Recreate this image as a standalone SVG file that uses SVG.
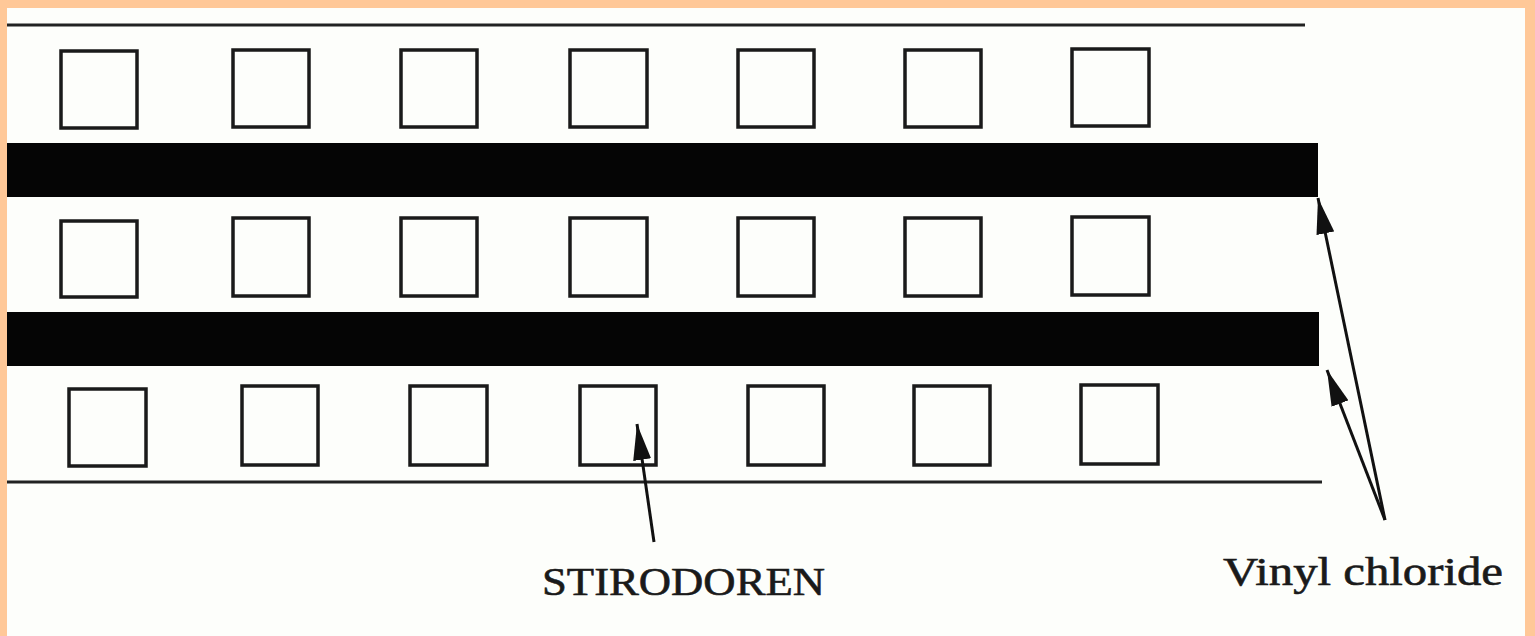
<svg xmlns="http://www.w3.org/2000/svg" width="1535" height="636" viewBox="0 0 1535 636">
<defs>
<style>
.sq{fill:none;stroke:#1a1a1a;stroke-width:3.5}
.ln{stroke:#222;stroke-width:3}
.bar{fill:#050505}
.cn{stroke:#111;stroke-width:3;fill:none}
.lbl{font-family:"Liberation Serif","DejaVu Serif",serif;font-size:40px;fill:#1a1a1a;stroke:#1a1a1a;stroke-width:0.6}
</style>
<marker id="ah" viewBox="0 0 36 18" refX="36" refY="9" markerWidth="36" markerHeight="18" markerUnits="userSpaceOnUse" orient="auto">
<path d="M0,0 L36,9 L0,18 Z" fill="#111"/>
</marker>
</defs>
<rect x="0" y="0" width="1535" height="636" fill="#FFC898"/>
<rect x="7" y="8" width="1518" height="628" fill="#FDFEFB"/>
<g id="layers">
<line class="ln" x1="7" y1="25" x2="1305" y2="25"/>
<rect class="bar" x="7" y="143" width="1311" height="54"/>
<rect class="bar" x="7" y="312" width="1312" height="54"/>
<line class="ln" x1="7" y1="482" x2="1322" y2="482"/>
</g>
<g id="row1">
<rect class="sq" x="61" y="51" width="76" height="77"/>
<rect class="sq" x="233" y="50" width="76" height="77"/>
<rect class="sq" x="401" y="50" width="76" height="77"/>
<rect class="sq" x="570" y="50" width="77" height="77"/>
<rect class="sq" x="738" y="50" width="76" height="77"/>
<rect class="sq" x="905" y="50" width="76" height="77"/>
<rect class="sq" x="1072" y="49" width="77" height="77"/>
</g>
<g id="row2">
<rect class="sq" x="61" y="221" width="76" height="76"/>
<rect class="sq" x="233" y="218" width="76" height="78"/>
<rect class="sq" x="401" y="218" width="76" height="78"/>
<rect class="sq" x="570" y="218" width="77" height="78"/>
<rect class="sq" x="738" y="218" width="76" height="78"/>
<rect class="sq" x="905" y="218" width="76" height="78"/>
<rect class="sq" x="1072" y="217" width="77" height="78"/>
</g>
<g id="row3">
<rect class="sq" x="69" y="389" width="77" height="77"/>
<rect class="sq" x="242" y="386" width="76" height="79"/>
<rect class="sq" x="410" y="386" width="77" height="79"/>
<rect class="sq" x="580" y="386" width="76" height="79"/>
<rect class="sq" x="748" y="386" width="76" height="79"/>
<rect class="sq" x="914" y="386" width="76" height="79"/>
<rect class="sq" x="1081" y="385" width="77" height="79"/>
</g>
<g id="connectors">
<line class="cn" x1="654" y1="542" x2="637" y2="424" marker-end="url(#ah)"/>
<line class="cn" x1="1385" y1="520" x2="1318" y2="198" marker-end="url(#ah)"/>
<line class="cn" x1="1385" y1="520" x2="1327" y2="370" marker-end="url(#ah)"/>
</g>
<g id="label-stirodoren">
<text class="lbl" x="542" y="595" textLength="283" lengthAdjust="spacingAndGlyphs">STIRODOREN</text>
</g>
<g id="label-vinyl">
<text class="lbl" x="1223" y="585" textLength="280" lengthAdjust="spacingAndGlyphs">Vinyl chloride</text>
</g>
</svg>
